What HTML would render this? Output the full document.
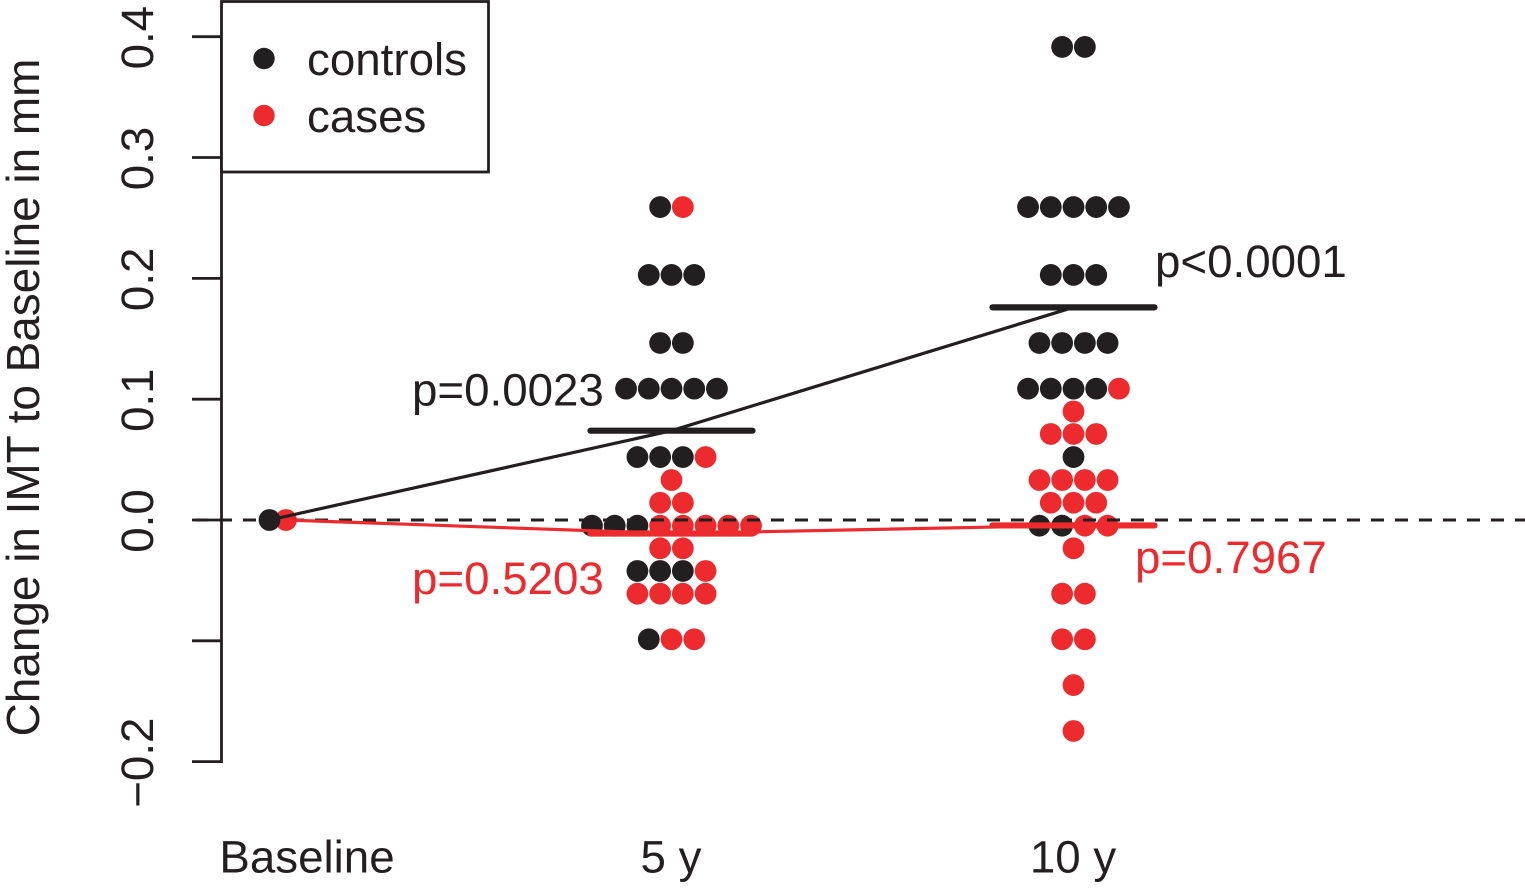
<!DOCTYPE html>
<html lang="en">
<head>
<meta charset="utf-8">
<title>Change in IMT to Baseline</title>
<style>
  html, body { margin: 0; padding: 0; background: #fff; }
  svg { display: block; }
  text { font-family: "Liberation Sans", sans-serif; font-size: 45.7px; fill: #231f20; }
  .red { fill: #ed2a2d; }
</style>
</head>
<body>
<svg id="chart" xmlns="http://www.w3.org/2000/svg" width="1525" height="888" viewBox="0 0 1525 888">
  <g id="dots"></g>
  <g id="refs"></g>
  <g id="trends"></g>
  <g id="axis"></g>
  <g id="xlabels"></g>
  <text text-anchor="middle" style="font-size:45.9px" transform="translate(39 397.5) rotate(-90)">Change in IMT to Baseline in mm</text>
  <text x="412" y="405.5">p=0.0023</text>
  <text class="red" x="412" y="594">p=0.5203</text>
  <text x="1155" y="277">p&lt;0.0001</text>
  <text class="red" x="1135" y="573">p=0.7967</text>
  <g>
    <rect x="221.5" y="1.5" width="267" height="170.5" fill="#fff" stroke="#231f20" stroke-width="2.8"/>
    <circle cx="264" cy="58.5" r="10.7" fill="#231f20"/>
    <text x="307" y="75">controls</text>
    <circle cx="264" cy="115.5" r="10.7" fill="#ed2a2d"/>
    <text x="307" y="132">cases</text>
  </g>
</svg>
<script>
// ---- chart data ----
const categories = ['Baseline', '5 y', '10 y'];
const yTicks = [-0.2, -0.1, 0, 0.1, 0.2, 0.3, 0.4];
const yTickLabels = ['\u22120.2', '', '0.0', '0.1', '0.2', '0.3', '0.4'];
const controlMeans = [0, 0.0739, 0.176];
const caseMeans = [0, -0.0112, -0.0045];

const rowValues5y = [0.259, 0.2028, 0.1465, 0.1087, 0.0521, 0.0331, 0.0143, -0.0047, -0.0234, -0.0422, -0.061, -0.0987];
const controlCounts5y = [1, 3, 2, 5, 3, 0, 0, 3, 0, 3, 0, 1];
const caseCounts5y = [1, 0, 0, 0, 1, 1, 2, 5, 2, 1, 4, 2];

const rowValues10y = [0.3915, 0.259, 0.2028, 0.1465, 0.1087, 0.0898, 0.0712, 0.0521, 0.0331, 0.0143, -0.0047, -0.0234, -0.061, -0.0987, -0.1366, -0.1746];
const controlCounts10y = [2, 5, 3, 4, 4, 0, 0, 1, 0, 0, 2, 0, 0, 0, 0, 0];
const caseCounts10y = [0, 0, 0, 0, 1, 1, 3, 0, 4, 3, 2, 1, 2, 2, 1, 1];

// ---- axis functions ----
const NS = 'http://www.w3.org/2000/svg';
const BLACK = '#231f20';
const RED = '#ed2a2d';
const DOT_R = 10.9;
const DOT_STEP = 22.72;
const BASELINE_CASE_SHIFT = 16.5;
function xScale(i) { return 269.5 + 402 * i; }
function yScale(v) { return 520 - 1208.3 * v; }

function make(tag, parent, attrs) {
  const el = document.createElementNS(NS, tag);
  for (const k in attrs) el.setAttribute(k, attrs[k]);
  parent.appendChild(el);
  return el;
}

// ---- dots ----
const dotsG = document.getElementById('dots');
function drawStrip(catIndex, values, ctrl, cases, label) {
  values.forEach(function (v, r) {
    const total = ctrl[r] + cases[r];
    for (let k = 0; k < total; k++) {
      const isCtrl = k < ctrl[r];
      const c = make('circle', dotsG, {
        cx: xScale(catIndex) + (k - (total - 1) / 2) * DOT_STEP,
        cy: yScale(v),
        r: DOT_R,
        fill: isCtrl ? BLACK : RED
      });
      
      
    }
  });
}
drawStrip(1, rowValues5y, controlCounts5y, caseCounts5y, '5y');
drawStrip(2, rowValues10y, controlCounts10y, caseCounts10y, '10y');

const baseCase = make('circle', dotsG, { cx: xScale(0) + BASELINE_CASE_SHIFT, cy: yScale(caseMeans[0]), r: DOT_R, fill: RED });


const baseCtrl = make('circle', dotsG, { cx: xScale(0), cy: yScale(controlMeans[0]), r: DOT_R, fill: BLACK });



// ---- zero reference ----
const refsG = document.getElementById('refs');
const zeroLine = make('line', refsG, { x1: 195, x2: 1525, y1: yScale(0), y2: yScale(0), stroke: BLACK, 'stroke-width': 3, 'stroke-dasharray': '13 11' });



// ---- trend lines and mean bars ----
const trendsG = document.getElementById('trends');
function drawTrend(means, color, label, startShift) {
  const pts = means.map(function (m, i) {
    return (xScale(i) + (i === 0 ? startShift : 0)) + ',' + yScale(m);
  }).join(' ');
  const line = make('polyline', trendsG, { points: pts, fill: 'none', stroke: color, 'stroke-width': 3.2 });
  
  
  means.forEach(function (m, i) {
    if (i === 0) return;
    const bar = make('line', trendsG, {
      x1: xScale(i) - 81, x2: xScale(i) + 81, y1: yScale(m), y2: yScale(m),
      stroke: color, 'stroke-width': 6.2, 'stroke-linecap': 'round'
    });
    
    
  });
}
drawTrend(controlMeans, BLACK, 'controls', 0);
drawTrend(caseMeans, RED, 'cases', BASELINE_CASE_SHIFT);

// ---- y axis ----
const axisG = document.getElementById('axis');
const axisLine = make('line', axisG, { x1: 221.5, x2: 221.5, y1: yScale(yTicks[yTicks.length - 1]), y2: yScale(yTicks[0]) + 1.4, stroke: BLACK, 'stroke-width': 2.8 });


yTicks.forEach(function (t, i) {
  const y = yScale(t);
  const tick = make('line', axisG, { x1: 192, x2: 221.5, y1: y, y2: y, stroke: BLACK, 'stroke-width': 2.8 });
  
  
  if (yTickLabels[i]) {
    const lab = make('text', axisG, { 'text-anchor': 'middle', transform: 'translate(153 ' + (y + 1) + ') rotate(-90)' });
    
    
    lab.textContent = yTickLabels[i];
  }
});

// ---- x labels ----
const xG = document.getElementById('xlabels');
categories.forEach(function (c, i) {
  const lab = make('text', xG, { x: i === 0 ? xScale(i) + 37.5 : xScale(i) - 0.5, y: 872.5, 'text-anchor': 'middle' });
  
  
  lab.textContent = c;
});
</script>
</body>
</html>
